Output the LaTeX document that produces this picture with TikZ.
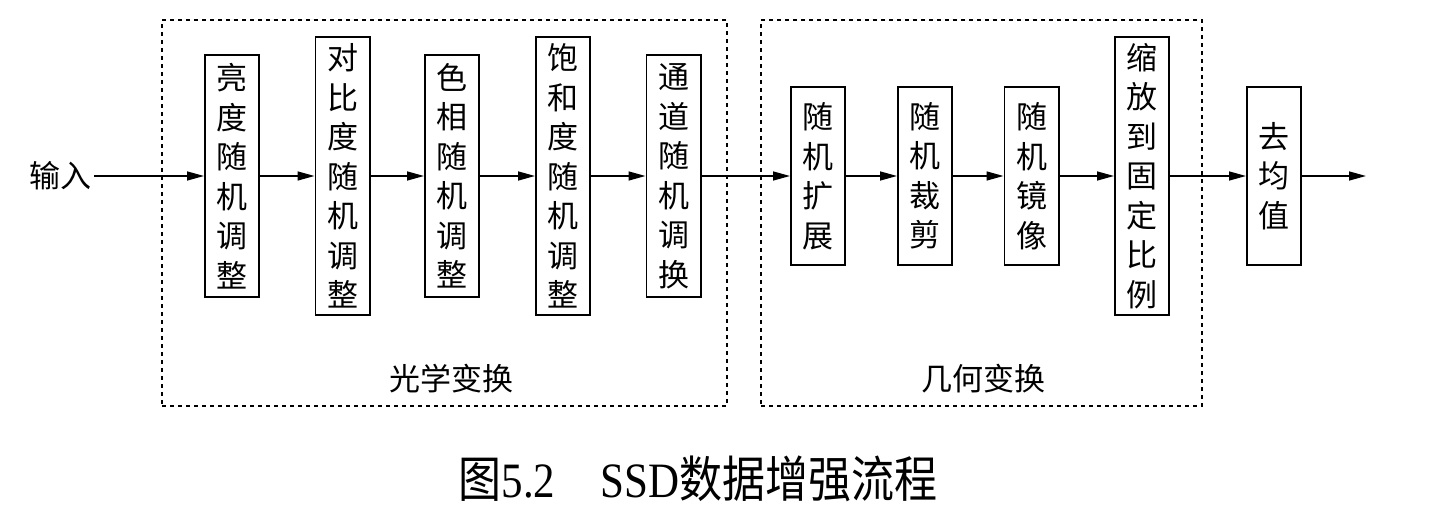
\documentclass[tikz,border=0pt]{standalone}
\usepackage{fontspec}
\setmainfont{Liberation Serif}
\newfontfamily\cjk{Noto Sans CJK SC}
\usetikzlibrary{arrows.meta}
\begin{document}
\begin{tikzpicture}[x=1pt,y=-1pt,
  stage/.style={draw, line width=1.6pt, inner sep=0pt, minimum width=54.4pt,
    align=center, font=\cjk\fontsize{31}{39.5}\selectfont},
  flow/.style={line width=1.5pt, -{Triangle[length=17pt,width=9pt]}},
  group/.style={draw, line width=1.6pt, dash pattern=on 4pt off 4pt,
    inner sep=0pt},
  grouplabel/.style={font=\cjk\fontsize{31}{31}\selectfont, inner sep=0pt},
  inlabel/.style={font=\cjk\fontsize{31}{31}\selectfont, inner sep=2pt}]
\useasboundingbox (0,0) rectangle (1438,510);

% dotted group frames
\node[group, minimum width=565pt, minimum height=386pt] (g1) at (444.5,213) {};
\node[group, minimum width=441pt, minimum height=386pt] (g2) at (981.5,213) {};
\node[grouplabel] (l1) at (451,379) {光学变换};
\node[grouplabel] (l2) at (983,379) {几何变换};

% input
\node[inlabel, anchor=east] (in) at (94,176) {输入};

% photometric stages
\node[stage, minimum height=242.4pt] (b1) at (232,176) {亮\\度\\随\\机\\调\\整};
\node[stage, minimum height=278.4pt] (b2) at (342.5,176) {对\\比\\度\\随\\机\\调\\整};
\node[stage, minimum height=242.4pt] (b3) at (452,176) {色\\相\\随\\机\\调\\整};
\node[stage, minimum height=278.4pt] (b4) at (563,176) {饱\\和\\度\\随\\机\\调\\整};
\node[stage, minimum height=242.4pt] (b5) at (673.5,176) {通\\道\\随\\机\\调\\换};

% geometric stages
\node[stage, minimum height=178.4pt] (b6) at (818,176) {随\\机\\扩\\展};
\node[stage, minimum height=178.4pt] (b7) at (925,176) {随\\机\\裁\\剪};
\node[stage, minimum height=178.4pt] (b8) at (1031.5,176) {随\\机\\镜\\像};
\node[stage, minimum height=278.4pt] (b9) at (1142,176) {缩\\放\\到\\固\\定\\比\\例};

% mean subtraction
\node[stage, minimum height=178.4pt] (b10) at (1274,176) {去\\均\\值};
\coordinate (out) at (1366,176);

\draw[flow] (in) -- (b1);
\draw[flow] (b1) -- (b2);
\draw[flow] (b2) -- (b3);
\draw[flow] (b3) -- (b4);
\draw[flow] (b4) -- (b5);
\draw[flow] (b5) -- (b6);
\draw[flow] (b6) -- (b7);
\draw[flow] (b7) -- (b8);
\draw[flow] (b8) -- (b9);
\draw[flow] (b9) -- (b10);
\draw[flow] (b10) -- (out);

% caption
\node[inner sep=0pt] (cap) at (698,479)
  {\scalebox{1}[1.15]{\fontsize{43}{43}\selectfont{\cjk 图}5.2\hspace{1.05em}SSD{\cjk 数据增强流程}}};
\end{tikzpicture}
\end{document}
